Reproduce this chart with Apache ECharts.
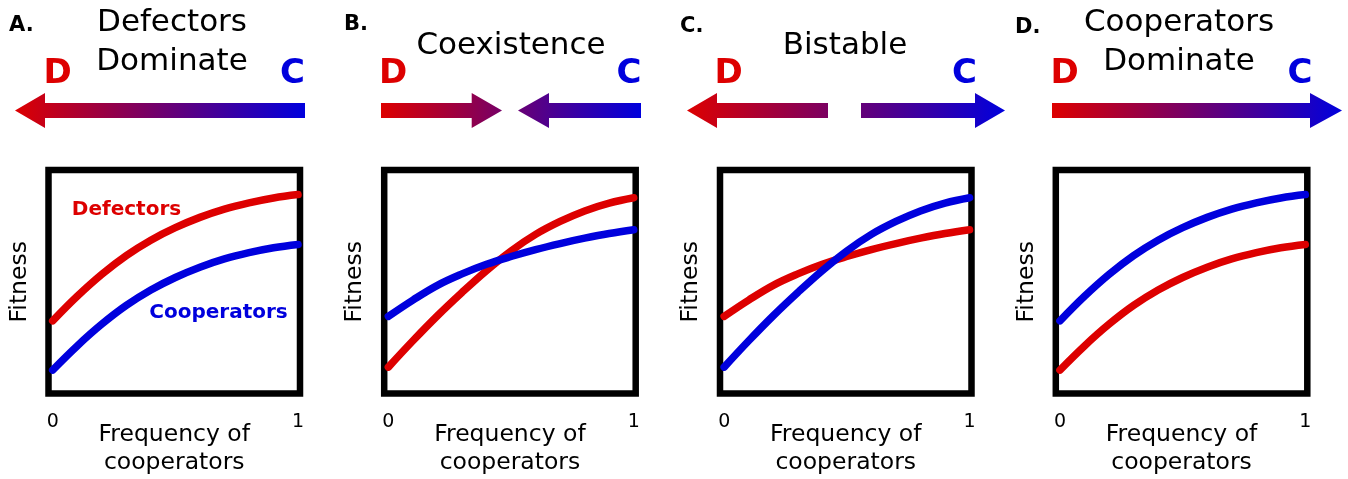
<!DOCTYPE html>
<html>
<head>
<meta charset="utf-8">
<script src="https://cdn.jsdelivr.net/npm/echarts@6/dist/echarts.min.js"></script>
<style>
html,body{margin:0;padding:0;background:#fff;}
#chart{width:1348px;height:479px;}
</style>
</head>
<body>
<div id="chart"></div>
<script>
// ---------- data ----------
const panelLetters = ['A.', 'B.', 'C.', 'D.'];
const panelTitles = ['Defectors\nDominate', 'Coexistence', 'Bistable', 'Cooperators\nDominate'];
const xAxisName = 'Frequency of\ncooperators';
const yAxisName = 'Fitness';
const tickLabels = [0, 1];
const freq = [0, 0.1, 0.2, 0.3, 0.4, 0.5, 0.6, 0.7, 0.8, 0.9, 1];

const defectorsA   = [0.325, 0.435, 0.533, 0.617, 0.686, 0.742, 0.788, 0.825, 0.853, 0.875, 0.890];
const cooperatorsA = [0.105, 0.213, 0.310, 0.394, 0.463, 0.519, 0.565, 0.602, 0.630, 0.652, 0.667];

const defectorsB   = [0.118, 0.236, 0.348, 0.452, 0.550, 0.638, 0.712, 0.770, 0.817, 0.852, 0.876];
const cooperatorsB = [0.345, 0.418, 0.484, 0.535, 0.578, 0.613, 0.644, 0.671, 0.695, 0.716, 0.733];

const defectorsC   = [0.345, 0.418, 0.484, 0.535, 0.578, 0.613, 0.644, 0.671, 0.695, 0.716, 0.733];
const cooperatorsC = [0.118, 0.236, 0.348, 0.452, 0.550, 0.638, 0.712, 0.770, 0.817, 0.852, 0.876];

const defectorsD   = [0.105, 0.213, 0.310, 0.394, 0.463, 0.519, 0.565, 0.602, 0.630, 0.652, 0.667];
const cooperatorsD = [0.325, 0.435, 0.533, 0.617, 0.686, 0.742, 0.788, 0.825, 0.853, 0.875, 0.890];

const defectorsSets = [defectorsA, defectorsB, defectorsC, defectorsD];
const cooperatorsSets = [cooperatorsA, cooperatorsB, cooperatorsC, cooperatorsD];
const curveLabels = ['Defectors', 'Cooperators'];

// ---------- styles / layout ----------
const RED = '#dd0000', BLUE = '#0000dd';
const FONT = '"DejaVu Sans", "Noto Sans", sans-serif';
const gridLefts = [48.5, 384.2, 720, 1055.8];
const gridW = 251.5, gridTop = 170, gridH = 223.5;

const chart = echarts.init(document.getElementById('chart'), null, {renderer: 'canvas'});

function pairs(ys) { return freq.map((x, i) => [x, ys[i]]); }

const grids = [], xAxes = [], yAxes = [], series = [];
for (let i = 0; i < 4; i++) {
  grids.push({left: gridLefts[i], top: gridTop, width: gridW, height: gridH,
    containLabel: false, outerBoundsMode: 'none',
    show: true, borderColor: '#000', borderWidth: 6.5, backgroundColor: 'transparent'});
  xAxes.push({type: 'value', gridIndex: i, min: -0.017, max: 1.008,
    axisLine: {show: false}, axisTick: {show: false}, splitLine: {show: false},
    axisLabel: {customValues: tickLabels, fontSize: 19, margin: 19, color: '#000', fontFamily: FONT,
      formatter: v => (v === 0 || v === 1) ? String(v) : ''},
    name: xAxisName, nameLocation: 'middle', nameGap: 27, nameMoveOverlap: false,
    nameTextStyle: {fontSize: 23.5, lineHeight: 28, color: '#000', fontFamily: FONT}});
  yAxes.push({type: 'value', gridIndex: i, min: 0, max: 1,
    axisLine: {show: false}, axisTick: {show: false}, splitLine: {show: false}, axisLabel: {show: false},
    name: yAxisName, nameLocation: 'middle', nameGap: 17, nameMoveOverlap: false,
    nameTextStyle: {fontSize: 23.5, color: '#000', fontFamily: FONT}});
  series.push({type: 'line', name: curveLabels[0], xAxisIndex: i, yAxisIndex: i, data: pairs(defectorsSets[i]),
    smooth: 0.4, showSymbol: false, silent: true, lineStyle: {color: RED, width: 7.5, cap: 'round'}, z: 3});
  series.push({type: 'line', name: curveLabels[1], xAxisIndex: i, yAxisIndex: i, data: pairs(cooperatorsSets[i]),
    smooth: 0.4, showSymbol: false, silent: true, lineStyle: {color: BLUE, width: 7.5, cap: 'round'}, z: 4});
}

// ---------- annotations ----------
const graphic = [];
function txt(text, x, y, size, weight, color, align, vAlign, lh) {
  graphic.push({type: 'text', x: x, y: y, silent: true,
    style: {text: text, fontSize: size, fontWeight: weight, fontFamily: FONT, fill: color,
      align: align, verticalAlign: vAlign, lineHeight: lh || Math.round(size * 1.2)}});
}
// panel letters
const letterPos = [[9, 26], [344, 25], [680, 27], [1015, 28]];
panelLetters.forEach((t, i) => txt(t, letterPos[i][0], letterPos[i][1], 21, 'bold', '#000', 'left', 'middle'));
// titles
txt(panelTitles[0], 172, 3, 31, 'normal', '#000', 'center', 'top', 39);
txt(panelTitles[1], 511, 45.5, 31, 'normal', '#000', 'center', 'middle');
txt(panelTitles[2], 845, 45.5, 31, 'normal', '#000', 'center', 'middle');
txt(panelTitles[3], 1179, 3, 31, 'normal', '#000', 'center', 'top', 39);
// D / C end labels
const dX = [57.5, 393, 728.5, 1064.5], cX = [292.5, 629, 964.5, 1300];
for (let i = 0; i < 4; i++) {
  txt('D', dX[i], 74, 34, 'bold', RED, 'center', 'middle');
  txt('C', cX[i], 74, 34, 'bold', BLUE, 'center', 'middle');
}
// curve labels in panel A
txt(curveLabels[0], 126.5, 210, 20, 'bold', RED, 'center', 'middle');
txt(curveLabels[1], 218.5, 313, 20, 'bold', BLUE, 'center', 'middle');

// arrows
const AY = 110.5, SH = 7.5, HH = 17.5;
function grad(x0, x1) {
  return new echarts.graphic.LinearGradient(x0, 0, x1, 0,
    [{offset: 0, color: RED}, {offset: 1, color: BLUE}], true);
}
function arrow(tip, base, tail, fill) {
  graphic.push({type: 'polygon', silent: true,
    shape: {points: [[tip, AY], [base, AY - HH], [base, AY - SH], [tail, AY - SH],
                     [tail, AY + SH], [base, AY + SH], [base, AY + HH]]},
    style: {fill: fill}});
}
const gA = grad(15, 305);
arrow(15, 45, 305, gA);
const gB = grad(381, 641);
arrow(502, 471.7, 381, gB);
arrow(518, 549, 641, gB);
const gC = grad(687, 1005);
arrow(687, 717, 828, gC);
arrow(1005, 975, 861, gC);
const gD = grad(1052, 1342);
arrow(1342, 1310, 1052, gD);

chart.setOption({
  animation: false,
  backgroundColor: '#fff',
  grid: grids, xAxis: xAxes, yAxis: yAxes, series: series,
  graphic: graphic
});
</script>
</body>
</html>
